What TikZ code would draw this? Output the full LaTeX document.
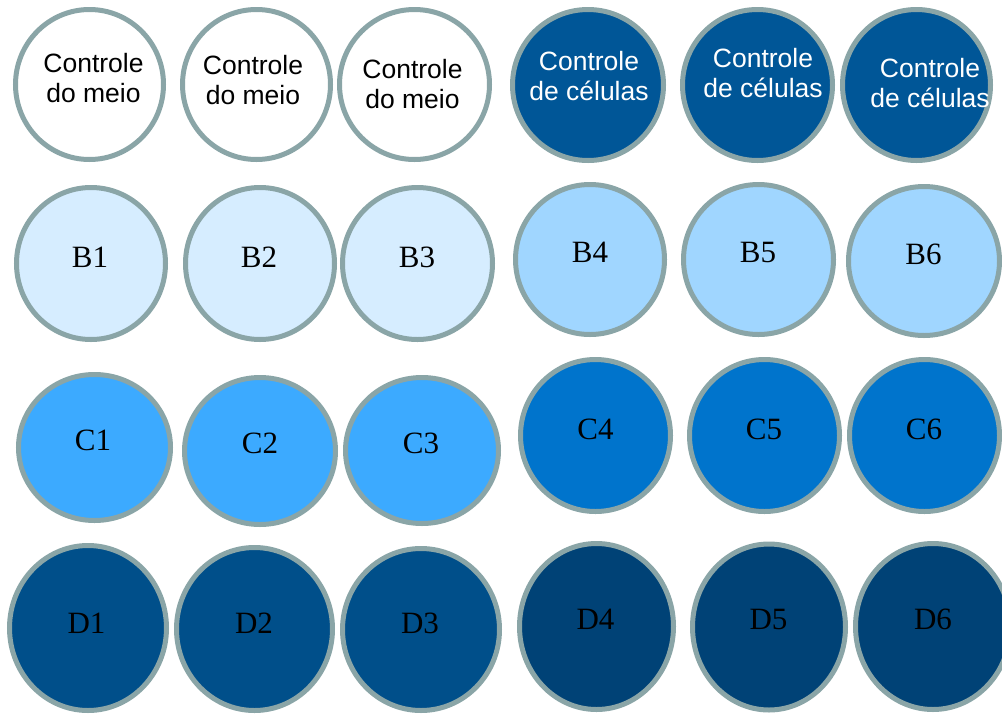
\documentclass[tikz,border=0pt]{standalone}
\usepackage{fontspec}
\setmainfont{Liberation Serif}
\setsansfont{Liberation Sans}
\usetikzlibrary{shapes.geometric}

\definecolor{rim}{RGB}{138,165,167}
\definecolor{cellsctl}{RGB}{0,86,151}
\definecolor{fillB}{RGB}{214,237,255}
\definecolor{fillBB}{RGB}{160,214,255}
\definecolor{fillC}{RGB}{60,170,255}
\definecolor{fillCC}{RGB}{0,116,204}
\definecolor{fillD}{RGB}{0,79,138}
\definecolor{fillDD}{RGB}{0,66,118}

\tikzset{
  well/.style={ellipse, draw=rim, line width=5pt, inner sep=0pt},
  % anchor=base sits on the baseline of the last line
  ctltext/.style={font=\sffamily\fontsize{26.5}{29.5}\selectfont, align=center, anchor=base, inner sep=0pt},
  idtext/.style={font=\rmfamily\fontsize{31}{36}\selectfont, anchor=base, inner sep=0pt},
}

% \wellat{name}{x}{y}{outer width}{outer height}{fill}
\newcommand\wellat[6]{%
  \node[well, fill=#6, minimum width=#4pt-5pt, minimum height=#5pt-5pt] (#1) at (#2,#3) {};}

\begin{document}
\begin{tikzpicture}[x=1pt, y=-1pt]
\useasboundingbox (0,0) rectangle (1002,713);

% row A: medium and cell controls
\wellat{wA1}{89.5}{84.5}{153}{155}{white}
\wellat{wA2}{256.5}{84.5}{153}{155}{white}
\wellat{wA3}{414.5}{84.5}{155}{155}{white}
\wellat{wA4}{588}{85}{156}{156}{cellsctl}
\wellat{wA5}{757.5}{85}{155}{156}{cellsctl}
\wellat{wA6}{916.5}{85}{153}{156}{cellsctl}

% row B
\wellat{wB1}{91}{263.5}{154}{157}{fillB}
\wellat{wB2}{260}{263.5}{154}{157}{fillB}
\wellat{wB3}{417.5}{263.5}{155}{157}{fillB}
\wellat{wB4}{590}{259.5}{154}{155}{fillBB}
\wellat{wB5}{758.5}{259.5}{155}{155}{fillBB}
\wellat{wB6}{924}{261}{156}{154}{fillBB}

% row C
\wellat{wC1}{94.5}{447.5}{157}{151}{fillC}
\wellat{wC2}{260}{451}{156}{152}{fillC}
\wellat{wC3}{422}{450.5}{158}{151}{fillC}
\wellat{wC4}{595.5}{435.5}{155}{157}{fillCC}
\wellat{wC5}{764.5}{435.5}{155}{157}{fillCC}
\wellat{wC6}{924.5}{435.5}{155}{157}{fillCC}

% row D
\wellat{wD1}{88}{628}{162}{170}{fillD}
\wellat{wD2}{254.5}{629}{161}{168}{fillD}
\wellat{wD3}{421}{629.5}{162}{167}{fillD}
\wellat{wD4}{596.5}{626.5}{159}{171}{fillDD}
\wellat{wD5}{769}{627}{158}{171}{fillDD}
\wellat{wD6}{933}{626.5}{160}{171}{fillDD}

% control labels
\node[ctltext] (tA1) at (93.5,102) {Controle\\do meio};
\node[ctltext] (tA2) at (253,104) {Controle\\do meio};
\node[ctltext] (tA3) at (412.5,108) {Controle\\do meio};
\node[ctltext, text=white] (tA4) at (589,100) {Controle\\de células};
\node[ctltext, text=white] (tA5) at (763,97) {Controle\\de células};
\node[ctltext, text=white] (tA6) at (930,107) {Controle\\de células};

% sample labels
\node[idtext] (tB1) at (90,267) {B1};
\node[idtext] (tB2) at (259,267) {B2};
\node[idtext] (tB3) at (417,267) {B3};
\node[idtext] (tB4) at (590,262) {B4};
\node[idtext] (tB5) at (758,262) {B5};
\node[idtext] (tB6) at (923.5,264) {B6};
\node[idtext] (tC1) at (93,450) {C1};
\node[idtext] (tC2) at (260,453) {C2};
\node[idtext] (tC3) at (421,453) {C3};
\node[idtext] (tC4) at (595.5,439) {C4};
\node[idtext] (tC5) at (764,439) {C5};
\node[idtext] (tC6) at (924,439) {C6};
\node[idtext] (tD1) at (86.5,633) {D1};
\node[idtext] (tD2) at (254,633) {D2};
\node[idtext] (tD3) at (420,633) {D3};
\node[idtext] (tD4) at (595.5,629) {D4};
\node[idtext] (tD5) at (768.5,629) {D5};
\node[idtext] (tD6) at (933,629) {D6};
\end{tikzpicture}
\end{document}
